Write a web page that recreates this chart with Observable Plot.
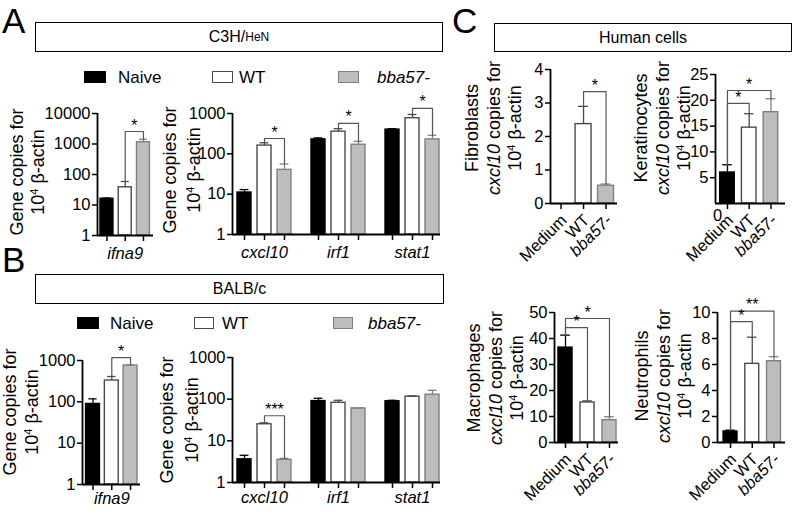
<!DOCTYPE html>
<html><head><meta charset="utf-8">
<script src="https://cdn.jsdelivr.net/npm/d3@7"></script>
<script src="https://cdn.jsdelivr.net/npm/@observablehq/plot@0.6"></script>
<style>
body{margin:0;background:#fff;}
#fig{position:relative;width:793px;height:514px;overflow:hidden;background:#fff;font-family:"Liberation Sans",Arial,sans-serif;color:#000;}
.rot{position:absolute;white-space:nowrap;transform:translate(-50%,-50%) rotate(-90deg);font-size:18px;line-height:1;}
.rot sup{font-size:0.62em;vertical-align:0.55em;line-height:0;}
.box{position:absolute;border:1.5px solid #000;box-sizing:border-box;display:flex;align-items:center;justify-content:center;font-size:16px;}
.letter{position:absolute;font-size:35px;line-height:1;}
.sw{position:absolute;width:21px;height:12px;box-sizing:border-box;border:1.5px solid;}
.lt{position:absolute;font-size:17px;line-height:1;transform:translateY(-50%);white-space:nowrap;}
#fig svg{position:absolute;overflow:visible;}
</style>
</head><body><div id="fig"></div>
<script>
// ---------- data ----------
const groups = ["Naive", "WT", "bba57-"];
const cellGroups = ["Medium", "WT", "bba57-"];
const mouseGenes = ["cxcl10", "irf1", "stat1"];
const ifnaGene = ["ifna9"];
const cellTypes = ["Fibroblasts", "Keratinocytes", "Macrophages", "Neutrophils"];

// A: C3H/HeN (mean, SEM) — order Naive, WT, bba57-
const c3hIfna9Mean = [16, 38, 1150];
const c3hIfna9Sem  = [1, 21, 280];
const c3hGenesMean = [11, 160, 40,   228, 355, 168,   398, 765, 228];
const c3hGenesSem  = [2, 28, 16,     20, 65, 36,      22, 180, 60];
// B: BALB/c
const balbIfna9Mean = [89, 328, 755];
const balbIfna9Sem  = [29, 82, 30];
const balbGenesMean = [3.6, 25, 3.5,  90, 82, 60,   89, 115, 128];
const balbGenesSem  = [0.9, 2, 0.3,   15, 12, 1,    5, 4, 35];
// C: human cells, cxcl10 — order Medium, WT, bba57-
const fibMean = [0, 2.37, 0.53], fibSem = [0, 0.53, 0.05];
const kerMean = [6.0, 14.7, 17.7], kerSem = [1.5, 2.7, 2.6];
const macMean = [36.5, 15.4, 8.6], macSem = [4.8, 0.6, 1.3];
const neuMean = [0.85, 6.05, 6.25], neuSem = [0.1, 2.05, 0.35];

// significance brackets: [from bar, to bar, bracket level, label]
const c3hIfna9Sig = [[1, 2, 2570, "*"]];
const c3hGenesSig = [[1, 2, 240, "*"], [4, 5, 570, "*"], [7, 8, 1340, "*"]];
const balbIfna9Sig = [[1, 2, 1180, "*"]];
const balbGenesSig = [[1, 2, 40, "***"]];
const fibSig = [[1, 2, 3.34, "*"]];
const kerSig = [[0, 1, 19.4, "*"], [0, 2, 21.9, "*"]];
const macSig = [[0, 1, 44.2, "*"], [0, 2, 47.7, "*"]];
const neuSig = [[0, 1, 9.3, "*"], [0, 2, 10.1, "**"]];

// tick values
const logTicks4 = [1, 10, 100, 1000, 10000];
const logTicks3 = [1, 10, 100, 1000];
const fibTicks = [0, 1, 2, 3, 4];
const kerTicks = [5, 10, 15, 20, 25];
const kerZero = ["0"];
const macTicks = [0, 10, 20, 30, 40, 50];
const neuTicks = [0, 2, 4, 6, 8, 10];

// ---------- drawing ----------
const fig = document.getElementById("fig");
const FONT = '"Liberation Sans", Arial, sans-serif';
const fills = ["#000000", "#ffffff", "#bdbdbd"];
const strokes = ["#000000", "#4a4a4a", "#808080"];

function addDiv(cls, html, css) {
  const d = document.createElement("div");
  d.className = cls; d.innerHTML = html; Object.assign(d.style, css);
  fig.appendChild(d); return d;
}

function barChart(o) {
  const mL = 60, mR = 25, mT = 40, mB = 90;
  const W = o.fx[1] - o.fx[0] + mL + mR, H = o.fy[1] - o.fy[0] + mT + mB;
  const base = o.log ? o.yd[0] : 0;
  const rows = o.mean.map((m, i) => ({pos: o.pos(i), g: i % 3, mean: m, sem: o.sem[i], top: m + o.sem[i]}));
  const marks = [];
  for (let g = 0; g < 3; g++) {
    const r = rows.filter(d => d.g === g);
    marks.push(Plot.rectY(r.filter(d => d.mean > 0), {x1: d => d.pos - o.half, x2: d => d.pos + o.half, y1: () => base, y2: "mean", fill: fills[g], stroke: strokes[g], strokeWidth: 1.4}));
    const e = r.filter(d => d.sem > 0);
    marks.push(Plot.ruleX(e, {x: "pos", y1: "mean", y2: "top", stroke: strokes[g], strokeWidth: 1.3}));
    marks.push(Plot.ruleY(e, {y: "top", x1: d => d.pos - o.cap, x2: d => d.pos + o.cap, stroke: strokes[g], strokeWidth: 1.3}));
  }
  const seg = [];
  o.sig.forEach((s, k) => {
    const a = rows[s[0]], b = rows[s[1]];
    seg.push({k, x: a.pos, y: a.top}, {k, x: a.pos, y: s[2]}, {k, x: b.pos, y: s[2]}, {k, x: b.pos, y: b.top});
  });
  marks.push(Plot.line(seg, {x: "x", y: "y", z: "k", stroke: "#555", strokeWidth: 1.2}));
  marks.push(Plot.text(o.sig, {x: s => (rows[s[0]].pos + rows[s[1]].pos) / 2, y: s => s[2], text: s => s[3], dy: -6, fontSize: 16}));
  marks.push(Plot.ruleX([o.xd[0]], {strokeWidth: 1.8}));
  marks.push(Plot.ruleY([base], {strokeWidth: 1.8}));
  marks.push(Plot.axisY({ticks: o.yTicks, tickSize: 5, tickFormat: () => "", strokeWidth: 1.5, label: null}));
  marks.push(Plot.text(o.yTicks, {x: () => o.xd[0], y: d => d, text: d => String(d), textAnchor: "end", dx: -7, fontSize: 16.5}));
  marks.push(Plot.axisX({ticks: rows.map(d => d.pos), tickSize: 6, tickFormat: () => "", strokeWidth: 1.5, label: null}));
  marks.push(...o.extra(rows, base));
  const svg = Plot.plot({
    width: W, height: H, marginLeft: mL, marginRight: mR, marginTop: mT, marginBottom: mB,
    x: {type: "linear", domain: o.xd},
    y: {type: o.log ? "log" : "linear", domain: o.yd},
    style: {background: "transparent", fontFamily: FONT, fontSize: "16px", overflow: "visible"},
    marks
  });
  svg.style.left = (o.fx[0] - mL) + "px";
  svg.style.top = (o.fy[0] - mT) + "px";
  fig.appendChild(svg);
}

const single = i => i;
const grouped = i => Math.floor(i / 3) * 3.7 + (i % 3);

function geneLabels(labels, dy) {
  return (rows, base) => [Plot.text(labels, {x: (d, i) => rows[i * 3 + 1].pos, y: () => base, text: d => d, dy, fontStyle: "italic", fontSize: 16.5})];
}
function cellLabels(extra) {
  return (rows, base) => [
    Plot.text(cellGroups.slice(0, 2), {x: (d, i) => rows[i].pos, y: () => 0, text: d => d, rotate: -45, textAnchor: "end", dx: 3, dy: 14, fontSize: 16.5}),
    Plot.text(cellGroups.slice(2), {x: () => rows[2].pos, y: () => 0, text: d => d, rotate: -45, textAnchor: "end", dx: 3, dy: 14, fontSize: 16.5, fontStyle: "italic"}),
    ...(extra ? extra(rows) : [])
  ];
}

// Panel A
barChart({fx: [97, 153], fy: [113, 235], xd: [-0.52, 2.55], yd: [1, 10000], log: true, yTicks: logTicks4,
  mean: c3hIfna9Mean, sem: c3hIfna9Sem, pos: single, half: 0.356, cap: 0.22, sig: c3hIfna9Sig, extra: geneLabels(ifnaGene, 18)});
barChart({fx: [232, 440], fy: [113, 234], xd: [-0.6, 9.8], yd: [1, 1000], log: true, yTicks: logTicks3,
  mean: c3hGenesMean, sem: c3hGenesSem, pos: grouped, half: 0.35, cap: 0.22, sig: c3hGenesSig, extra: geneLabels(mouseGenes, 18)});
// Panel B
barChart({fx: [82, 140], fy: [360, 484], xd: [-0.56, 2.53], yd: [1, 1000], log: true, yTicks: logTicks3,
  mean: balbIfna9Mean, sem: balbIfna9Sem, pos: single, half: 0.37, cap: 0.22, sig: balbIfna9Sig, extra: geneLabels(ifnaGene, 14)});
barChart({fx: [232, 440], fy: [357, 482], xd: [-0.6, 9.8], yd: [1, 1000], log: true, yTicks: logTicks3,
  mean: balbGenesMean, sem: balbGenesSem, pos: grouped, half: 0.35, cap: 0.22, sig: balbGenesSig, extra: geneLabels(mouseGenes, 15)});
// Panel C
barChart({fx: [550, 617], fy: [69, 203], xd: [-0.47, 2.51], yd: [0, 4], log: false, yTicks: fibTicks,
  mean: fibMean, sem: fibSem, pos: single, half: 0.355, cap: 0.22, sig: fibSig, extra: cellLabels()});
barChart({fx: [715, 785], fy: [74, 203], xd: [-0.55, 2.67], yd: [0, 25], log: false, yTicks: kerTicks,
  mean: kerMean, sem: kerSem, pos: single, half: 0.335, cap: 0.22, sig: kerSig,
  extra: cellLabels(rows => [Plot.text(kerZero, {x: () => -0.55, y: () => 0, text: d => d, dy: 12, dx: 2, fontSize: 16.5})])});
barChart({fx: [554, 618], fy: [312, 442], xd: [-0.5, 2.41], yd: [0, 50], log: false, yTicks: macTicks,
  mean: macMean, sem: macSem, pos: single, half: 0.32, cap: 0.22, sig: macSig, extra: cellLabels()});
barChart({fx: [717, 785], fy: [312, 442], xd: [-0.6, 2.53], yd: [0, 10], log: false, yTicks: neuTicks,
  mean: neuMean, sem: neuSem, pos: single, half: 0.32, cap: 0.22, sig: neuSig, extra: cellLabels()});

// ---------- text, boxes, legends ----------
addDiv("letter", "A", {left: "2px", top: "3px"});
addDiv("letter", "B", {left: "2px", top: "242px"});
addDiv("letter", "C", {left: "452px", top: "3px"});
addDiv("box", 'C3H/<span style="font-size:12px">HeN</span>', {left: "35px", top: "22px", width: "408px", height: "30px"});
addDiv("box", "BALB/c", {left: "35px", top: "274px", width: "409px", height: "30px"});
addDiv("box", "Human cells", {left: "494px", top: "23px", width: "298px", height: "29px"});

function legend(y, sx, tx, sw) {
  groups.forEach((g, i) => {
    addDiv("sw", "", {left: sx[i] + "px", top: (y - 6) + "px", width: sw[i] + "px", background: fills[i], borderColor: strokes[i]});
    addDiv("lt", g, {left: tx[i] + "px", top: y + "px", fontStyle: i === 2 ? "italic" : "normal"});
  });
}
legend(77, [84, 212, 338], [118, 239, 377], [22, 21, 21]);
legend(323, [77, 194, 333], [110, 222, 368], [22, 20, 20]);

const mouseYLabel = ["Gene copies for", "10<sup>4</sup> β-actin"];
const cellYLabel = ["<i>cxcl10</i> copies for", "10<sup>4</sup> β-actin"];
function yLabel(lines, xs, y) { lines.forEach((t, i) => addDiv("rot", t, {left: xs[i] + "px", top: y + "px"})); }
yLabel(mouseYLabel, [17, 38], 172);
yLabel(mouseYLabel, [170, 194], 170);
yLabel(mouseYLabel, [10, 32], 412);
yLabel(mouseYLabel, [167, 192], 420);
yLabel([cellTypes[0], ...cellYLabel], [472, 494, 515], 128);
yLabel([cellTypes[1], ...cellYLabel], [641, 663, 684], 128);
yLabel([cellTypes[2], ...cellYLabel], [474, 496, 517], 378);
yLabel([cellTypes[3], ...cellYLabel], [642, 664, 685], 376);
</script></body></html>
